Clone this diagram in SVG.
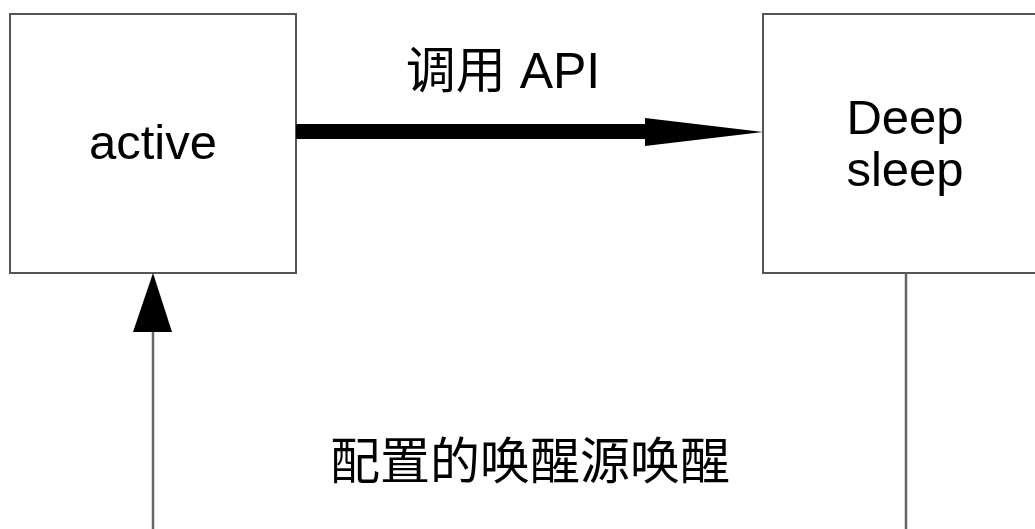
<svg xmlns="http://www.w3.org/2000/svg" width="1035" height="529" viewBox="0 0 1035 529">
<style>
.box{fill:#fff;stroke:#555;stroke-width:2}
.lbl{font-family:"Liberation Sans","Noto Sans CJK SC",sans-serif;font-size:49px;fill:#000;text-anchor:middle}
.cjk{font-family:"Liberation Sans","Noto Sans CJK SC",sans-serif;font-size:50px;fill:#000;text-anchor:middle}
.thin{fill:none;stroke:#666;stroke-width:2.5}
.head{fill:#000}
</style>
<rect width="1035" height="529" fill="#fff"/>
<g id="active">
<rect class="box" x="10" y="14" width="286" height="259"/>
<text class="lbl" x="153" y="159">active</text>
</g>
<g id="deepsleep">
<rect class="box" x="763" y="14" width="286" height="259"/>
<text class="lbl" x="905" y="134">Deep</text>
<text class="lbl" x="905" y="186">sleep</text>
</g>
<g id="connectors">
<g id="call-api">
<rect x="296" y="124" width="350" height="15" fill="#000"/>
<polygon class="head" points="645,118 763,132 645,146"/>
<text class="cjk" x="503" y="88">调用 API</text>
</g>
<g id="wakeup">
<path class="thin" d="M906,273 V545 H153 V332"/>
<polygon class="head" points="153,273 133,332 172,332"/>
<text class="cjk" x="530" y="479">配置的唤醒源唤醒</text>
</g>
</g>
</svg>
